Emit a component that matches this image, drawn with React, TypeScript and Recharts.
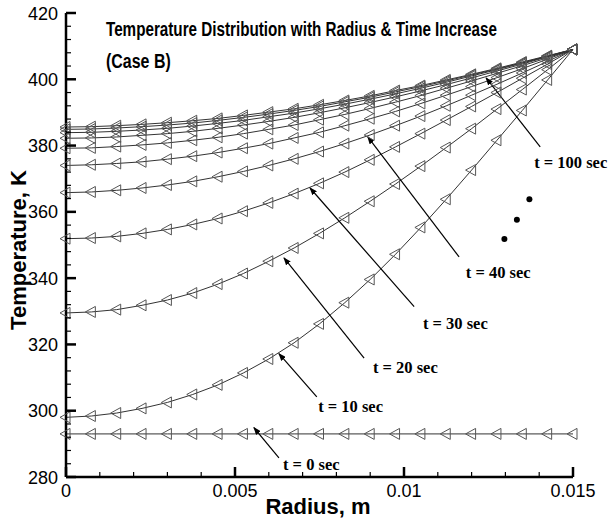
import { LineChart, Line, XAxis, YAxis, ReferenceLine, ReferenceDot } from "recharts";

// radius nodes, m
const radius = [
  0, 0.00075, 0.0015, 0.00225, 0.003, 0.00375, 0.0045, 0.00525, 0.006, 0.00675, 0.0075,
  0.00825, 0.009, 0.00975, 0.0105, 0.01125, 0.012, 0.01275, 0.0135, 0.01425, 0.015,
];

// temperature, K, per time step
const t0 = [293, 293, 293, 293, 293, 293, 293, 293, 293, 293, 293, 293, 293, 293, 293, 293, 293, 293, 293, 293, 293];
const t10 = [298.0, 298.4, 299.3, 300.7, 302.5, 304.9, 307.8, 311.4, 315.6, 320.5, 326.2, 332.6, 339.6, 347.2, 355.3, 363.8, 372.6, 381.6, 390.6, 399.8, 409.0];
const t20 = [329.5, 329.8, 330.5, 331.8, 333.4, 335.5, 338.2, 341.4, 345.1, 349.1, 353.5, 358.2, 363.2, 368.4, 373.8, 379.4, 385.1, 391.0, 396.9, 402.9, 409.0];
const t30 = [351.9, 352.1, 352.6, 353.5, 354.7, 356.2, 358.0, 360.2, 362.7, 365.5, 368.6, 372.0, 375.7, 379.6, 383.6, 387.7, 391.8, 396.0, 400.3, 404.6, 409.0];
const t40 = [365.8, 366.0, 366.5, 367.2, 368.1, 369.2, 370.6, 372.2, 374.0, 376.0, 378.2, 380.6, 383.2, 386.0, 388.9, 392.0, 395.2, 398.5, 401.9, 405.4, 409.0];
const t50 = [374.0, 374.2, 374.6, 375.1, 375.9, 376.8, 377.9, 379.2, 380.6, 382.3, 384.0, 386.0, 388.1, 390.3, 392.7, 395.2, 397.8, 400.5, 403.2, 406.1, 409.0];
const t60 = [379.2, 379.3, 379.7, 380.2, 380.8, 381.6, 382.5, 383.6, 384.9, 386.2, 387.8, 389.4, 391.2, 393.1, 395.1, 397.3, 399.5, 401.8, 404.1, 406.5, 409.0];
const t70 = [382.2, 382.3, 382.6, 383.1, 383.6, 384.3, 385.2, 386.2, 387.3, 388.5, 389.9, 391.4, 393.0, 394.7, 396.5, 398.4, 400.4, 402.5, 404.6, 406.8, 409.0];
const t80 = [383.9, 384.0, 384.3, 384.7, 385.2, 385.9, 386.7, 387.6, 388.7, 389.8, 391.1, 392.5, 394.0, 395.6, 397.3, 399.1, 401.0, 402.9, 404.9, 406.9, 409.0];
const t90 = [384.9, 385.0, 385.3, 385.7, 386.2, 386.8, 387.6, 388.5, 389.5, 390.6, 391.8, 393.2, 394.6, 396.2, 397.8, 399.5, 401.3, 403.1, 405.0, 407.0, 409.0];
const t100 = [385.6, 385.7, 386.0, 386.4, 386.9, 387.5, 388.2, 389.1, 390.1, 391.1, 392.3, 393.6, 395.0, 396.6, 398.1, 399.8, 401.5, 403.3, 405.2, 407.1, 409.0];

const seriesKeys = ["t0", "t10", "t20", "t30", "t40", "t50", "t60", "t70", "t80", "t90", "t100"];
const seriesValues = [t0, t10, t20, t30, t40, t50, t60, t70, t80, t90, t100];

// axis ticks
const xTicks = [0, 0.001, 0.002, 0.003, 0.004, 0.005, 0.006, 0.007, 0.008, 0.009, 0.01, 0.011, 0.012, 0.013, 0.014, 0.015];
const xMajorTicks = [0, 0.005, 0.01, 0.015];
const xTickLabels = ["0", "0.005", "0.01", "0.015"];
const yTicks = [
  280, 284, 288, 292, 296, 300, 304, 308, 312, 316, 320, 324, 328, 332, 336, 340, 344, 348,
  352, 356, 360, 364, 368, 372, 376, 380, 384, 388, 392, 396, 400, 404, 408, 412, 416, 420,
];
const yMajorTicks = [280, 300, 320, 340, 360, 380, 400, 420];

// annotations (data coordinates)
const timeLabels = ["t = 0 sec", "t = 10 sec", "t = 20 sec", "t = 30 sec", "t = 40 sec", "t = 100 sec"];
const labelR = [0.00642, 0.00746, 0.00908, 0.01056, 0.01183, 0.01385];
const labelT = [283.7, 301.2, 313.0, 326.2, 341.8, 374.8];
const arrowTailR = [0.0063, 0.00742, 0.00882, 0.0103, 0.01163, 0.01403];
const arrowTailT = [285.8, 304.2, 315.9, 331.4, 346.4, 379.6];
const arrowTipR = [0.00556, 0.0063, 0.00645, 0.00722, 0.00893, 0.01243];
const arrowTipT = [294.9, 317.2, 346.1, 367.2, 382.6, 400.4];
const ellipsisR = [0.01297, 0.01334, 0.01371];
const ellipsisT = [351.8, 357.6, 363.8];

const rows = radius.map((r, i) => {
  const row: any = { r };
  seriesKeys.forEach((k, j) => (row[k] = seriesValues[j][i]));
  return row;
});

const sans = "'Liberation Sans', Arial, sans-serif";
const serif = "'Liberation Serif', 'Times New Roman', serif";

const YTick = (props: any) => {
  const { x, y, payload } = props;
  const major = yMajorTicks.includes(payload.value);
  return (
    <g>
      <line x1={x} y1={y} x2={x + (major ? 10 : 5)} y2={y} stroke="#000" strokeWidth={major ? 2.5 : 1.2} />
      {major && (
        <text x={x - 8} y={y} dy={6.5} textAnchor="end" fontSize={18} fontFamily={sans} fill="#000">
          {payload.value}
        </text>
      )}
    </g>
  );
};

const XTick = (props: any) => {
  const { x, y, payload } = props;
  const idx = xMajorTicks.indexOf(payload.value);
  const major = idx >= 0;
  return (
    <g>
      <line x1={x} y1={y} x2={x} y2={y - (major ? 10 : 5)} stroke="#000" strokeWidth={major ? 2.5 : 1.2} />
      {major && (
        <text x={x} y={y} dy={20} textAnchor="middle" fontSize={18} fontFamily={sans} fill="#000">
          {xTickLabels[idx]}
        </text>
      )}
    </g>
  );
};

const triangle = (p: any) => {
  const { cx, cy, index, dataKey } = p;
  if (cx == null || cy == null) return <g key={`${dataKey}-${index}`} />;
  return (
    <polygon
      key={`${dataKey}-${index}`}
      points={`${cx - 6},${cy} ${cx + 4},${cy - 5.5} ${cx + 4},${cy + 5.5}`}
      fill="none"
      stroke="#555"
      strokeWidth={1}
    />
  );
};

export default function App() {
  return (
    <div style={{ position: "absolute", left: 0, top: 0, width: 609, height: 523, background: "#fff" }}>
      <svg width={0} height={0} style={{ position: "absolute" }}>
        <defs>
          <marker id="arrowhead" markerWidth="8" markerHeight="6" refX="7" refY="3" orient="auto" markerUnits="userSpaceOnUse">
            <path d="M0,0 L8,3 L0,6 Z" fill="#000" />
          </marker>
        </defs>
      </svg>
      <LineChart width={609} height={523} data={rows} margin={{ top: 13, right: 36, bottom: 0, left: 0 }}>
        <XAxis
          dataKey="r"
          type="number"
          domain={[0, 0.015]}
          ticks={xTicks}
          interval={0}
          tickSize={0}
          tickMargin={0}
          tickLine={false}
          tick={<XTick />}
          height={46}
          axisLine={{ stroke: "#000", strokeWidth: 2.5 }}
        />
        <YAxis
          type="number"
          domain={[280, 420]}
          ticks={yTicks}
          interval={0}
          tickSize={0}
          tickMargin={0}
          tickLine={false}
          tick={<YTick />}
          width={66}
          axisLine={{ stroke: "#000", strokeWidth: 2.5 }}
        />
        {seriesKeys.map(k => (
          <Line
            key={k}
            dataKey={k}
            type="linear"
            stroke="#333"
            strokeWidth={1}
            dot={triangle}
            activeDot={false}
            isAnimationActive={false}
          />
        ))}
        {timeLabels.map((lab, i) => (
          <ReferenceLine
            key={`arrow-${lab}`}
            segment={[
              { x: arrowTailR[i], y: arrowTailT[i] },
              { x: arrowTipR[i], y: arrowTipT[i] },
            ]}
            stroke="#000"
            shape={(p: any) => (
              <line x1={p.x1} y1={p.y1} x2={p.x2} y2={p.y2} stroke="#000" strokeWidth={1.2} markerEnd="url(#arrowhead)" />
            )}
          />
        ))}
        {timeLabels.map((lab, i) => (
          <ReferenceDot
            key={`label-${lab}`}
            x={labelR[i]}
            y={labelT[i]}
            r={0}
            shape={(p: any) => (
              <text x={p.cx} y={p.cy} dy={5.5} fontSize={16.5} fontWeight="bold" fontFamily={serif} fill="#000">
                {lab}
              </text>
            )}
          />
        ))}
        {ellipsisR.map((r, i) => (
          <ReferenceDot key={`dot-${i}`} x={r} y={ellipsisT[i]} r={3} fill="#000" stroke="none" />
        ))}
        {/* condensed bold title, squeezed horizontally */}
        <g transform="translate(106 36) scale(0.725 1)">
          <text x={0} y={0} fontSize={21} fontWeight="bold" fontFamily={sans} fill="#000">
            Temperature Distribution with Radius &amp; Time Increase
          </text>
        </g>
        <g transform="translate(106 68) scale(0.76 1)">
          <text x={0} y={0} fontSize={21} fontWeight="bold" fontFamily={sans} fill="#000">
            (Case B)
          </text>
        </g>
        <text x={318} y={514} textAnchor="middle" fontSize={22} fontWeight="bold" fontFamily={sans} fill="#000">
          Radius, m
        </text>
        <text x={26} y={250} transform="rotate(-90 26 250)" textAnchor="middle" fontSize={22} fontWeight="bold" fontFamily={sans} fill="#000">
          Temperature, K
        </text>
      </LineChart>
    </div>
  );
}
